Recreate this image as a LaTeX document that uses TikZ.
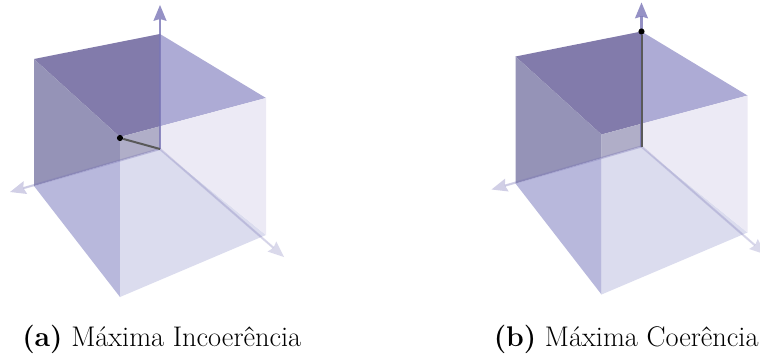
\documentclass[tikz,border=0pt]{standalone}
\usetikzlibrary{arrows.meta}
\definecolor{topodark}{HTML}{827BAB}
\definecolor{topolight}{HTML}{ADABD5}
\definecolor{paredeesq}{HTML}{9593B7}
\definecolor{cantomeio}{HTML}{B0AEC8}
\definecolor{chaoesq}{HTML}{B8B8DC}
\definecolor{chaodir}{HTML}{DBDCEE}
\definecolor{parededir}{HTML}{ECEAF5}
\definecolor{eixocor}{HTML}{7A76B6}
\tikzset{
    eixo/.style={-{Stealth[length=12pt,width=10pt,inset=1.5pt,line width=0pt]}, line width=1.6pt, draw=eixocor, fill=eixocor},
    vetor/.style={line width=1.5pt, draw=black!65},
    ponto/.style={circle, fill=black, inner sep=0pt, minimum size=4.6pt},
    legenda/.style={anchor=base west, inner sep=0pt, font=\fontsize{21.3}{25}\selectfont},
    pics/cubo/.style={code={
        \coordinate (-o) at (160,149);
        \coordinate (-top) at (160,34);
        \coordinate (-z) at (160,5);
        \coordinate (-y) at (10,192);
        \coordinate (-x) at (284,257);
        % faces
        \fill[topodark]  (34,59) -- (160,34) -- (160,126.3) -- (120,137) -- cycle;
        \fill[topolight] (160,34) -- (266,98) -- (160,126.3) -- cycle;
        \fill[paredeesq] (34,59) -- (120,137) -- (120,160.7) -- (34,186) -- cycle;
        \fill[cantomeio] (120,137) -- (160,126.3) -- (160,149) -- (120,160.7) -- cycle;
        \fill[chaoesq]   (34,186) -- (120,160.7) -- (120,297) -- cycle;
        \fill[chaodir]   (120,160.7) -- (160,149) -- (266,235) -- (120,297) -- cycle;
        \fill[parededir] (160,126.3) -- (266,98) -- (266,235) -- (160,149) -- cycle;
        % eixos
        \draw[eixo, draw opacity=.8, fill opacity=.8] (-o) -- (-z);
        \draw[eixo, draw opacity=.35, fill opacity=.35] (-o) -- (-y);
        \draw[eixo, draw opacity=.28, fill opacity=.28] (-o) -- (-x);
    }}
}
\begin{document}
\begin{tikzpicture}[x=0.75pt, y=-0.75pt]
    \clip (0,0) rectangle (760,360);
    \pic (a) at (0,0) {cubo};
    \pic (b) at (481.5,-2.5) {cubo};
    \node[ponto] (pa) at (120,138) {};
    \node[ponto] (pb) at (b-top) {};
    \draw[vetor] (pa) -- (a-o);
    \draw[vetor] (pb) -- (b-o);
    \node[legenda] (lega) at (22,346) {\textbf{(a)} Máxima Incoerência};
    \node[legenda] (legb) at (493.5,346) {\textbf{(b)} Máxima Coerência};
\end{tikzpicture}
\end{document}
